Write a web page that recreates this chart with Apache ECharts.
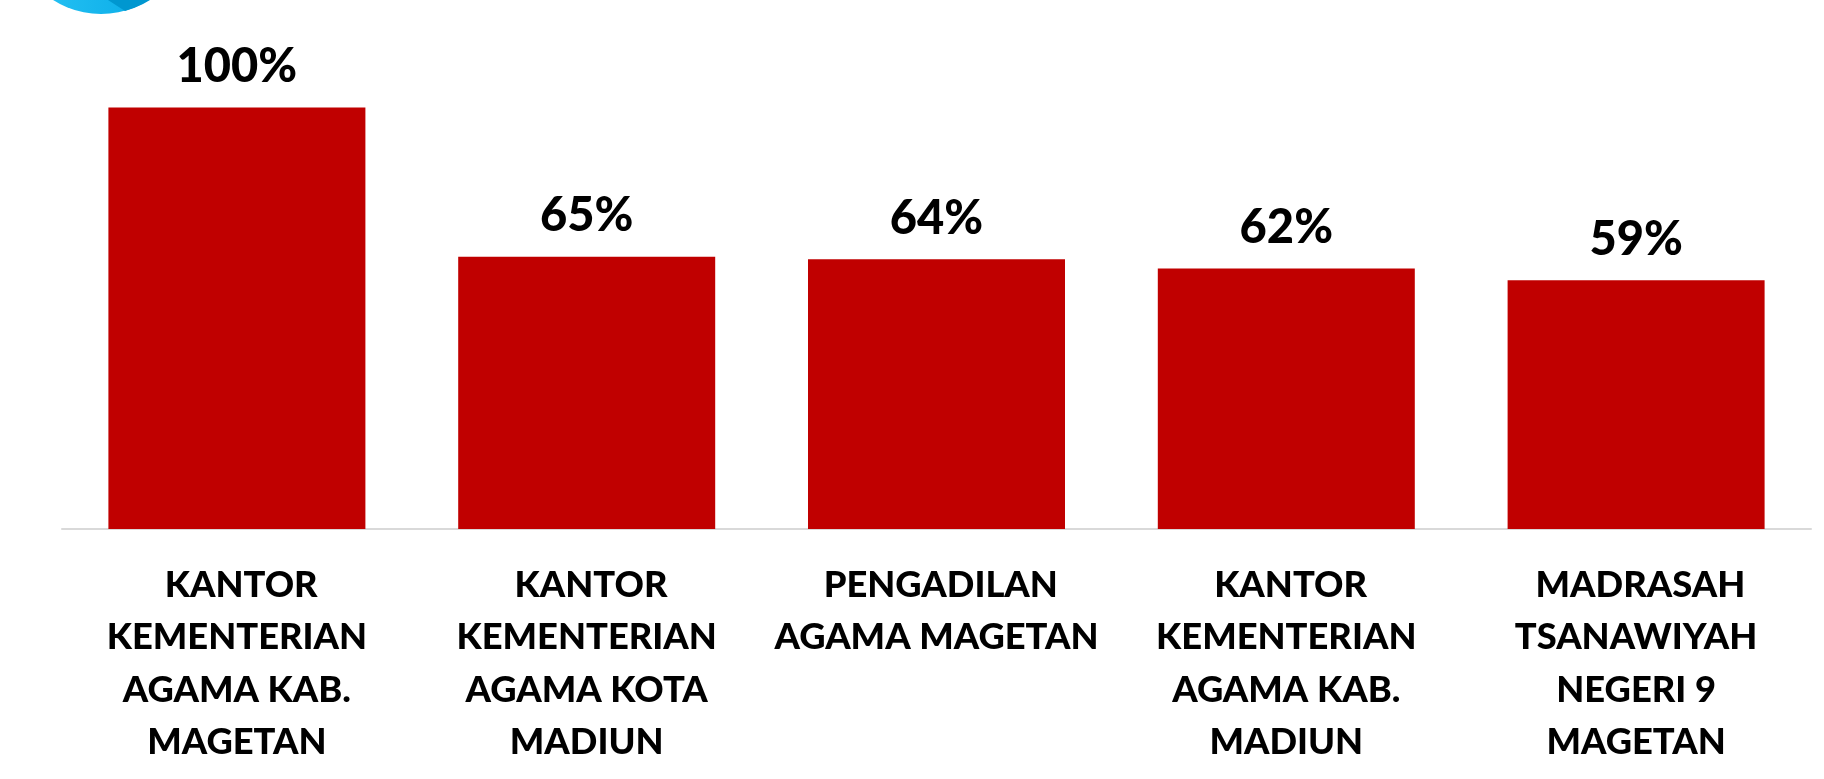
<!DOCTYPE html>
<html>
<head>
<meta charset="utf-8">
<style>
  html, body { margin: 0; padding: 0; background: #fff; }
  #myChart { width: 1824px; height: 779px; }
</style>
<script src="https://cdn.jsdelivr.net/npm/echarts@6/dist/echarts.min.js"></script>
</head>
<body>
<div id="myChart"></div>
<script>
  const categories = [
    ' KANTOR\nKEMENTERIAN\nAGAMA KAB.\nMAGETAN',
    ' KANTOR\nKEMENTERIAN\nAGAMA KOTA\nMADIUN',
    ' PENGADILAN\nAGAMA MAGETAN',
    ' KANTOR\nKEMENTERIAN\nAGAMA KAB.\nMADIUN',
    ' MADRASAH\nTSANAWIYAH\nNEGERI 9\nMAGETAN'
  ];
  // bar heights sit a little under the printed percent on some bars
  const values = [100, 64.6, 64, 61.8, 59];

  let myChart = echarts.init(document.getElementById('myChart'));
  myChart.setOption({
    animation: false,
    graphic: [{
      type: 'circle',
      shape: { cx: 101, cy: -75, r: 89 },
      style: {
        fill: new echarts.graphic.LinearGradient(0, 0, 1, 0, [
          { offset: 0, color: '#2cc6f6' },
          { offset: 1, color: '#00a5e3' }
        ])
      }
    }, {
      type: 'polygon',
      shape: { points: [[108, 0], [125, 11], [134, 8], [143, 4], [150, 0]] },
      style: { fill: '#0097d0' }
    }],
    grid: { left: 62, right: 13, top: 107.5, bottom: 250 },
    xAxis: {
      type: 'category',
      data: categories,
      axisTick: { show: false },
      axisLine: { lineStyle: { color: '#d9d9d9', width: 2 } },
      axisLabel: {
        interval: 0,
        margin: 30,
        color: '#000',
        fontFamily: 'Lato',
        fontWeight: 900,
        fontSize: 36.3,
        lineHeight: 52.5
      }
    },
    yAxis: { type: 'value', min: 0, max: 100, show: false },
    series: [{
      type: 'bar',
      data: values,
      barWidth: 257,
      itemStyle: { color: '#c00000' },
      label: {
        show: true,
        position: 'top',
        distance: 17,
        formatter: (p) => Math.round(p.value) + '%',
        color: '#000',
        fontFamily: 'Lato',
        fontWeight: 900,
        fontSize: 47
      }
    }]
  });
</script>
</body>
</html>
